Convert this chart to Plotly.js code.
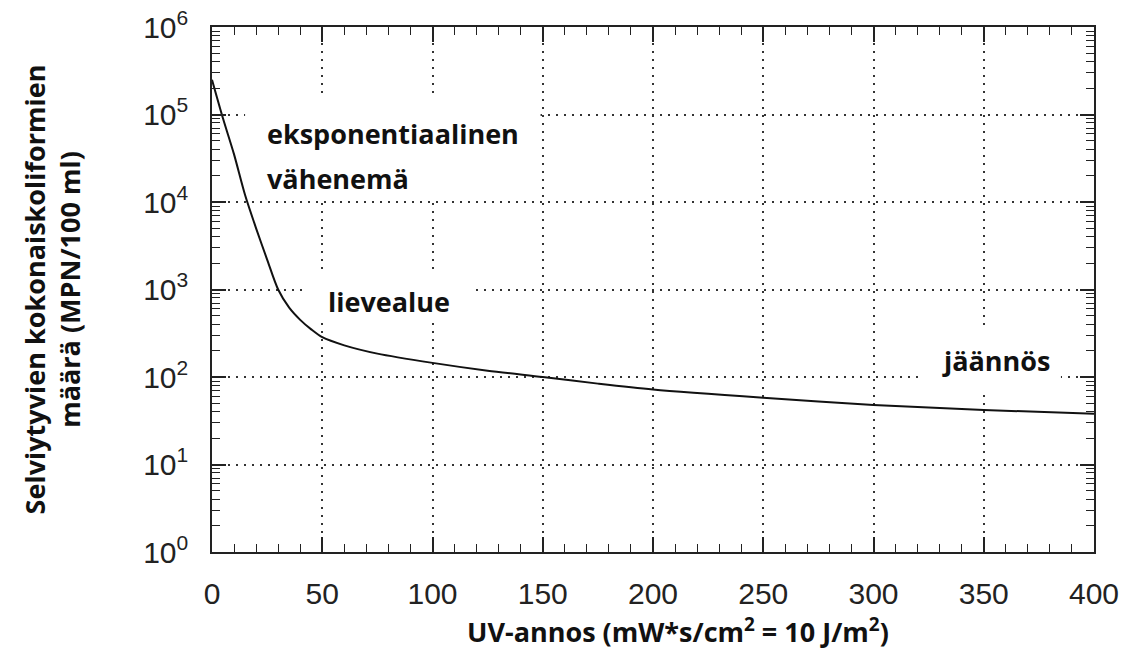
<!DOCTYPE html>
<html>
<head>
<meta charset="utf-8">
<script src="https://cdn.plot.ly/plotly-3.0.1.min.js"></script>
<style>html,body{margin:0;padding:0;background:#fff;}#chart{width:1136px;height:655px;}</style>
</head>
<body>
<div id="chart"></div>
<script>
// UV dose (mW*s/cm2) and surviving total coliforms (MPN/100 ml)
const uvDose = [0, 5, 10, 15, 20, 25, 30, 35, 40, 45, 50, 60, 75, 100, 125, 150, 175, 200, 250, 300, 350, 400];
const survivors = [250000, 90000, 35000, 12000, 5000, 2200, 1000, 620, 450, 350, 285, 230, 185, 145, 118, 100, 84, 72, 58, 48, 42, 38];

const xTickVals = [0, 50, 100, 150, 200, 250, 300, 350, 400];
const yTickVals = [1, 10, 100, 1000, 10000, 100000, 1000000];
const yTickText = ['10<sup>0</sup>', '10<sup>1</sup>', '10<sup>2</sup>', '10<sup>3</sup>', '10<sup>4</sup>', '10<sup>5</sup>', '10<sup>6</sup>'];

const regionLabels = ['eksponentiaalinen', 'vähenemä', 'lievealue', 'jäännös'];
const regionX = [24, 24, 51.7, 330];
const regionY = [60000, 18500, 720, 155];

const xTitle = 'UV-annos (mW*s/cm<sup>2</sup> = 10 J/m<sup>2</sup>)';
const yTitle = 'Selviytyvien kokonaiskoliformien<br>määrä (MPN/100 ml)';

// minor ticks on the log axis: 2..9 in each decade
const yMinor = [];
for (let d = 0; d < 6; d++) for (let m = 2; m <= 9; m++) yMinor.push(m * Math.pow(10, d));

const boldFont = {family: '"Open Sans", sans-serif', size: 27, color: '#111', weight: 700};
const tickFont = {family: '"Liberation Sans", Arial, sans-serif', size: 30, color: '#222'};

const trace = {
  x: uvDose, y: survivors, type: 'scatter', mode: 'lines',
  line: {color: '#111', width: 2, shape: 'spline', smoothing: 0.8},
  hoverinfo: 'x+y', showlegend: false
};

// white patches where the scanned original has gaps in its dotted grid
const gapX0 = [15, 41, 322];
const gapX1 = [149, 117.5, 385];
const gapY0 = [10500, 425, 66];
const gapY1 = [155000, 1660, 345];
const shapes = gapX0.map((v, i) => ({
  type: 'rect', layer: 'between', xref: 'x', yref: 'y',
  x0: v, x1: gapX1[i], y0: gapY0[i], y1: gapY1[i],
  fillcolor: '#fff', line: {width: 0}
}));

const annotations = regionLabels.map((t, i) => ({
  text: t, x: regionX[i], y: Math.log10(regionY[i]), xref: 'x', yref: 'y',
  xanchor: 'left', yanchor: 'middle', showarrow: false, font: boldFont
}));
// x-axis title (offset to the right of the plot centre, as in the original)
annotations.push({
  text: xTitle, x: 0.528, y: -0.149, xref: 'paper', yref: 'paper',
  xanchor: 'center', yanchor: 'middle', showarrow: false, font: boldFont
});

const layout = {
  width: 1136, height: 655,
  margin: {l: 212, r: 42, t: 27, b: 103},
  paper_bgcolor: '#fff', plot_bgcolor: '#fff',
  showlegend: false,
  xaxis: {
    range: [0, 400], tickvals: xTickVals, ticktext: xTickVals.map(String),
    ticks: 'inside', ticklen: 15, tickwidth: 1.5, tickcolor: '#222',
    showline: true, linecolor: '#222', linewidth: 1.5, mirror: 'allticks',
    showgrid: true, gridcolor: '#333', gridwidth: 1.5, griddash: '2px,6px',
    zeroline: false, tickfont: tickFont, ticklabelstandoff: 14,
    minor: {dtick: 10, ticks: 'inside', ticklen: 8, tickwidth: 1.2, tickcolor: '#222', showgrid: false}
  },
  yaxis: {
    type: 'log', range: [0, 6], tickvals: yTickVals, ticktext: yTickText,
    ticks: 'inside', ticklen: 14, tickwidth: 1.5, tickcolor: '#222',
    showline: true, linecolor: '#222', linewidth: 1.5, mirror: 'allticks',
    showgrid: true, gridcolor: '#333', gridwidth: 1.5, griddash: '2px,6px',
    zeroline: false, tickfont: tickFont, ticklabelstandoff: 16,
    minor: {tickmode: 'array', tickvals: yMinor, ticks: 'inside', ticklen: 8, tickwidth: 1.2, tickcolor: '#222', showgrid: false},
    title: {text: yTitle, font: boldFont, standoff: 55}
  },
  shapes: shapes,
  annotations: annotations
};

Plotly.newPlot('chart', [trace], layout, {displayModeBar: false});
</script>
</body>
</html>
